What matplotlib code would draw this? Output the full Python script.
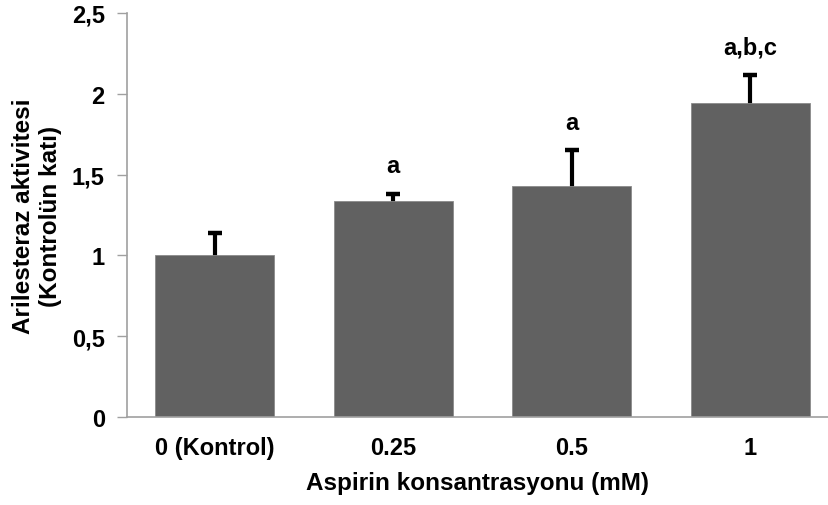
import matplotlib
matplotlib.use("Agg")
import matplotlib.pyplot as plt

categories = ["0 (Kontrol)", "0.25", "0.5", "1"]
values = [1.0, 1.337, 1.427, 1.943]
errors = [0.14, 0.046, 0.228, 0.176]
letters = ["", "a", "a", "a,b,c"]
yticks = [0, 0.5, 1, 1.5, 2, 2.5]
ytick_labels = ["0", "0,5", "1", "1,5", "2", "2,5"]

plt.rcParams['font.family'] = ['Liberation Sans', 'DejaVu Sans']
plt.rcParams['font.weight'] = 'bold'

fig = plt.figure(figsize=(8.29, 5.06), dpi=100)
ax = fig.add_axes([127/829, 1-418/506, 1-127/829, 404/506])

x = list(range(len(categories)))
ax.bar(x, values, width=0.665, color="#616161", edgecolor="#8a8a8a", linewidth=0.6, zorder=2)
# symmetric bars drawn beneath the bars so only the upper whisker shows
ax.errorbar(x, values, yerr=errors, fmt="none", ecolor="black",
            elinewidth=3, capsize=4.7, capthick=3.2, zorder=1)

for xi, v, e, l in zip(x, values, errors, letters):
    if l:
        ax.text(xi, v + e + 0.13, l, ha="center", va="baseline", fontsize=17, fontweight="bold")

ax.set_ylim(0, 2.5)
ax.set_xlim(-0.49, 3.44)
ax.set_yticks(yticks)
ax.set_yticklabels(ytick_labels, fontsize=17, fontweight="bold")
ax.set_xticks(x)
ax.set_xticklabels(categories, fontsize=17, fontweight="bold")
ax.tick_params(axis="y", length=7, width=1, color="#a0a0a0", pad=9)
ax.tick_params(axis="x", length=0, pad=14)

for s in ["top", "right"]:
    ax.spines[s].set_visible(False)
for s in ["left", "bottom"]:
    ax.spines[s].set_color("#a0a0a0")
    ax.spines[s].set_linewidth(1.2)

ax.set_xlabel("Aspirin konsantrasyonu (mM)", fontsize=17.5, fontweight="bold", labelpad=8)
ax.set_ylabel("Arilesteraz aktivitesi\n(Kontrolün katı)", fontsize=17.5, fontweight="bold",
              labelpad=7, linespacing=1.25)

fig.savefig("out.png", dpi=100)
